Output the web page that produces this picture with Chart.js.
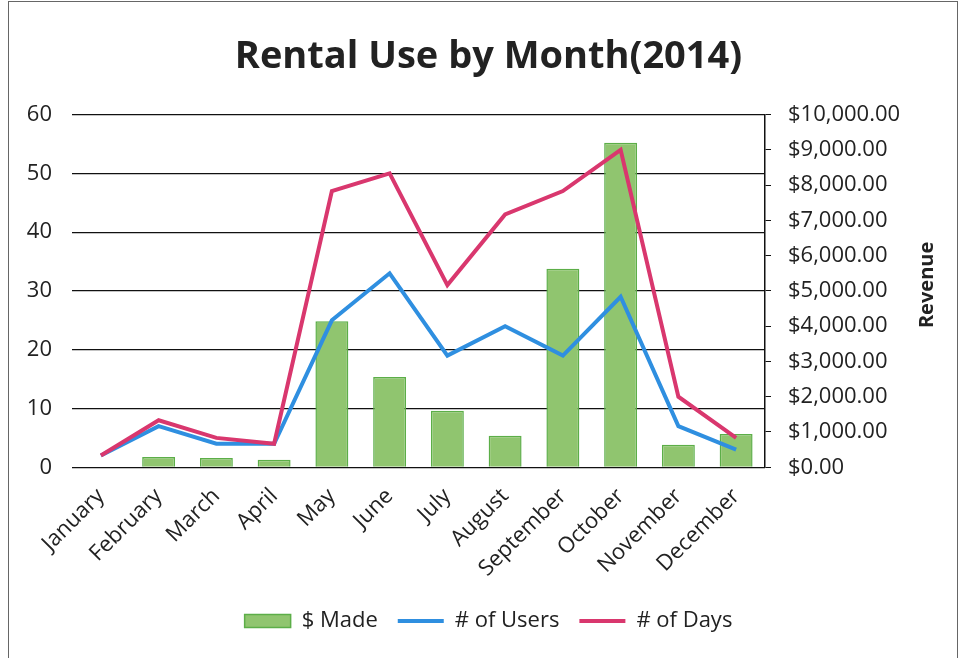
<!DOCTYPE html>
<html>
<head>
<meta charset="utf-8">
<script src="https://cdn.jsdelivr.net/npm/chart.js@4/dist/chart.umd.min.js"></script>
<style>
    html, body { margin: 0; padding: 0; background: #fff; }
    #wrap { position: relative; width: 961px; height: 658px; }
    #frame { position: absolute; left: 8px; top: 1px; width: 948px; height: 660px;
             border: 1px solid #666; border-bottom: none; }
    #chart { position: absolute; left: 0; top: 0; }
</style>
</head>
<body>
<div id="wrap">
    <div id="frame"></div>
    <canvas id="chart" width="961" height="658"></canvas>
</div>
<script>
    const months = ['January', 'February', 'March', 'April', 'May', 'June', 'July',
        'August', 'September', 'October', 'November', 'December'];
    // revenue, right axis
    const moneyMade = [0, 290, 260, 215, 4140, 2560, 1600, 890, 5630, 9200, 640, 940];
    // left axis
    const numUsers = [2, 7, 4, 4, 25, 33, 19, 24, 19, 29, 7, 3];
    const numDays = [2, 8, 5, 4, 47, 50, 31, 43, 47, 54, 12, 5];

    const leftTicks = { min: 0, max: 60, step: 10 };
    const rightTicks = { min: 0, max: 10000, step: 1000 };

    const fontFamily = "'Open Sans', 'Noto Sans', sans-serif";
    const textColor = '#222';

    function money(v) {
        return '$' + Number(v).toLocaleString('en-US', { minimumFractionDigits: 2, maximumFractionDigits: 2 });
    }

    // right axis title, reads bottom to top like the original
    const revenueTitle = {
        id: 'revenueTitle',
        afterDraw(chart) {
            const c = chart.ctx;
            const area = chart.chartArea;
            c.save();
            c.translate(chart.width - 34, (area.top + area.bottom) / 2 - 6);
            c.rotate(-Math.PI / 2);
            c.font = 'bold 20px ' + fontFamily;
            c.fillStyle = textColor;
            c.textAlign = 'center';
            c.textBaseline = 'middle';
            c.fillText('Revenue', 0, 0);
            c.restore();
        }
    };

    const ctx = document.getElementById('chart').getContext('2d');
    const myChart = new Chart(ctx, {
        data: {
            labels: months,
            datasets: [
                {
                    type: 'bar',
                    label: '$ Made',
                    data: moneyMade,
                    yAxisID: 'y1',
                    backgroundColor: '#90c56f',
                    borderColor: '#5cae48',
                    borderWidth: 1.5,
                    barPercentage: 0.57,
                    categoryPercentage: 1,
                    pointStyle: 'rect',
                    order: 3
                },
                {
                    type: 'line',
                    label: '# of Users',
                    data: numUsers,
                    yAxisID: 'y',
                    borderColor: '#2f8fe0',
                    backgroundColor: '#2f8fe0',
                    borderWidth: 4,
                    pointRadius: 0,
                    pointStyle: 'line',
                    tension: 0,
                    order: 2
                },
                {
                    type: 'line',
                    label: '# of Days',
                    data: numDays,
                    yAxisID: 'y',
                    borderColor: '#d9376e',
                    backgroundColor: '#d9376e',
                    borderWidth: 4,
                    pointRadius: 0,
                    pointStyle: 'line',
                    tension: 0,
                    order: 1
                }
            ]
        },
        options: {
            responsive: false,
            animation: false,
            layout: { padding: { left: 16, right: 0, top: 8, bottom: 16 } },
            plugins: {
                title: {
                    display: true,
                    text: 'Rental Use by Month(2014)',
                    color: textColor,
                    font: { family: fontFamily, size: 38, weight: 'bold' },
                    padding: { top: 26, bottom: 35 }
                },
                legend: {
                    position: 'bottom',
                    labels: {
                        color: textColor,
                        font: { family: fontFamily, size: 22 },
                        usePointStyle: true,
                        pointStyleWidth: 46,
                        boxHeight: 13,
                        padding: 20,
                        sort: (a, b) => a.datasetIndex - b.datasetIndex
                    }
                },
                tooltip: { enabled: false }
            },
            scales: {
                x: {
                    grid: { display: false },
                    border: { display: false },
                    afterFit: (s) => { s.paddingLeft = 0; s.paddingRight = 0; },
                    ticks: {
                        color: textColor,
                        font: { family: fontFamily, size: 22 },
                        minRotation: 45,
                        maxRotation: 45,
                        padding: 8
                    }
                },
                y: {
                    position: 'left',
                    min: leftTicks.min,
                    max: leftTicks.max,
                    afterFit: (s) => { s.width = 56; },
                    grid: { color: '#111', lineWidth: 1.2, drawTicks: false },
                    border: { display: false },
                    ticks: {
                        stepSize: leftTicks.step,
                        color: textColor,
                        font: { family: fontFamily, size: 22 },
                        padding: 20
                    }
                },
                y1: {
                    position: 'right',
                    min: rightTicks.min,
                    max: rightTicks.max,
                    afterFit: (s) => { s.width = 196; },
                    grid: { drawOnChartArea: false, color: '#111', tickLength: 6 },
                    border: { display: true, color: '#111', width: 1.5 },
                    ticks: {
                        stepSize: rightTicks.step,
                        color: textColor,
                        font: { family: fontFamily, size: 22 },
                        padding: 17,
                        callback: (v) => money(v)
                    }
                }
            }
        },
        plugins: [revenueTitle]
    });
</script>
</body>
</html>
